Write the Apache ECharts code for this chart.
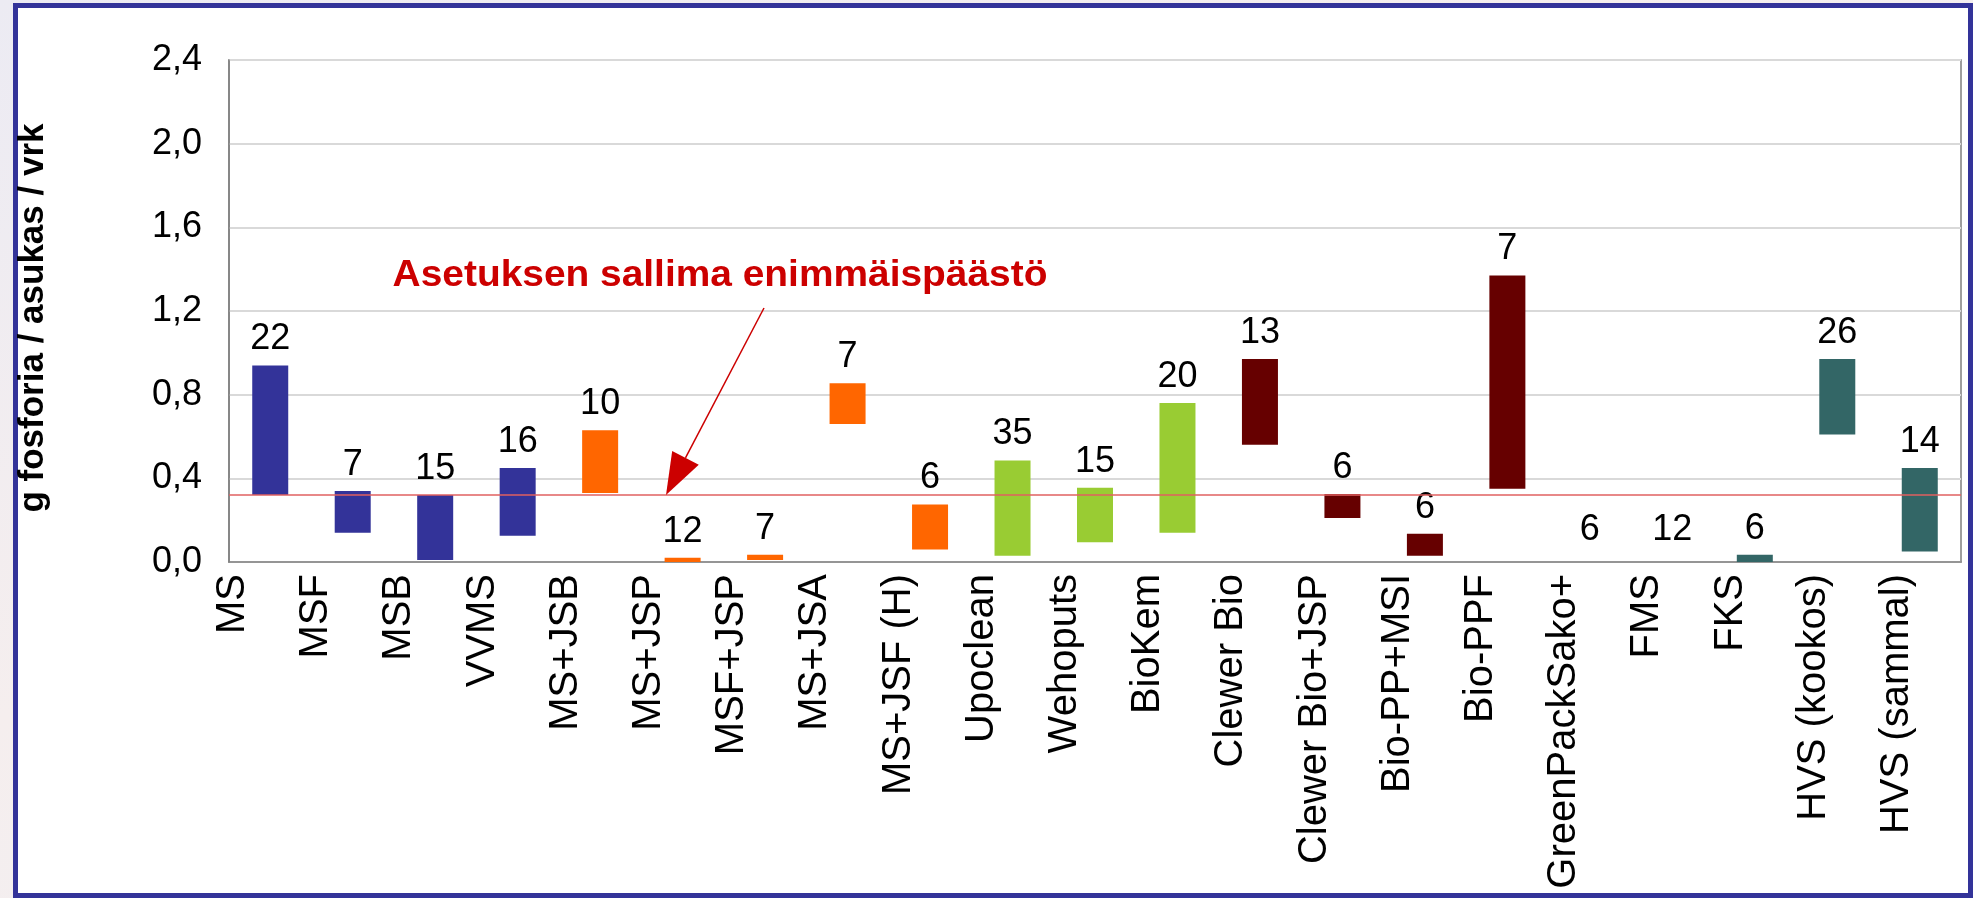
<!DOCTYPE html>
<html>
<head>
<meta charset="utf-8">
<script src="https://cdn.jsdelivr.net/npm/echarts@6/dist/echarts.min.js"></script>
<style>
  html, body { margin: 0; padding: 0; }
  body {
    width: 1973px; height: 898px; overflow: hidden; position: relative;
    background: linear-gradient(to bottom right, #ecebf3, #f5eeee 40%, #eef0f6);
  }
  #frame {
    position: absolute; left: 13px; top: 3px; right: 0; bottom: 0;
    border: 5px solid #333399; background: #fff;
  }
  #main { position: absolute; left: 0; top: 0; width: 1973px; height: 898px; }
</style>
</head>
<body>
<div id="frame"></div>
<div id="main"></div>
<script type="text/javascript">
  // laitteet / järjestelmät
  var categories = ['MS', 'MSF', 'MSB', 'VVMS', 'MS+JSB', 'MS+JSP', 'MSF+JSP', 'MS+JSA',
    'MS+JSF (H)', 'Upoclean', 'Wehoputs', 'BioKem', 'Clewer Bio', 'Clewer Bio+JSP',
    'Bio-PP+MSI', 'Bio-PPF', 'GreenPackSako+', 'FMS', 'FKS', 'HVS (kookos)', 'HVS (sammal)'];
  // vaihteluvälin ala- ja yläraja (g P / asukas / vrk)
  var lowValues  = [0.32, 0.14, 0.01, 0.125, 0.33, 0.0, 0.01, 0.66, 0.06, 0.03, 0.095, 0.14,
    0.56, 0.21, 0.03, 0.35, 0.03, 0.03, 0.0, 0.61, 0.05];
  var highValues = [0.94, 0.34, 0.32, 0.45, 0.63, 0.02, 0.035, 0.855, 0.275, 0.485, 0.355, 0.76,
    0.97, 0.325, 0.135, 1.37, 0.03, 0.03, 0.035, 0.97, 0.45];
  // näytteiden lukumäärä
  var sampleCounts = [22, 7, 15, 16, 10, 12, 7, 7, 6, 35, 15, 20, 13, 6, 6, 7, 6, 12, 6, 26, 14];
  var groupOf = [0, 0, 0, 0, 1, 1, 1, 1, 1, 2, 2, 2, 3, 3, 3, 3, 4, 4, 4, 4, 4];
  var groupColors = ['#333399', '#FF6600', '#99CC33', '#660000', '#336666'];
  var limitValue = 0.32;
  var annotationText = 'Asetuksen sallima enimmäispäästö';

  var font = 'Liberation Sans, Arial, sans-serif';
  var chart = echarts.init(document.getElementById('main'));

  var rangeData = [];
  for (var i = 0; i < categories.length; i++) {
    rangeData.push({
      value: +(highValues[i] - lowValues[i]).toFixed(4),
      itemStyle: { color: groupColors[groupOf[i]] }
    });
  }

  var option = {
    animation: false,
    grid: [{
      left: 229, right: 12, top: 60, bottom: 336,
      show: true, borderColor: '#7f7f7f', borderWidth: 1.5
    }, {
      // nimiakseli: nimet ovat luokkien välissä, hieman harvemmassa kuin pylväät
      left: 233, right: 76, top: 60, bottom: 336, show: false
    }],
    xAxis: [{
      type: 'category',
      data: categories,
      gridIndex: 0,
      position: 'bottom',
      axisLine: { lineStyle: { color: '#7f7f7f', width: 1.5 } },
      axisTick: { show: false },
      axisLabel: { show: false }
    }, {
      type: 'category',
      data: categories,
      gridIndex: 1,
      boundaryGap: false,
      position: 'bottom',
      axisLine: { show: false },
      axisTick: { show: false },
      axisLabel: {
        rotate: 90, margin: 12, interval: 0,
        color: '#000', fontSize: 40, fontFamily: font
      }
    }],
    yAxis: [{
      type: 'value',
      gridIndex: 0,
      min: 0, max: 2.4, interval: 0.4,
      name: 'g fosforia / asukas / vrk',
      nameLocation: 'middle',
      nameGap: 178,
      nameTextStyle: {
        fontSize: 35, fontWeight: 'bold', color: '#000', fontFamily: font,
        padding: [0, 14, 0, 0]
      },
      axisLine: { show: true, lineStyle: { color: '#7f7f7f', width: 1.5 } },
      axisTick: { show: false },
      axisLabel: {
        margin: 27, color: '#000', fontSize: 36, fontFamily: font,
        formatter: function (v) { return v.toFixed(1).replace('.', ','); }
      },
      splitLine: { lineStyle: { color: '#d9d9d9', width: 2 } }
    }, {
      type: 'value', gridIndex: 1, show: false, min: 0, max: 2.4
    }],
    series: [{
      type: 'bar',
      stack: 'vali',
      barWidth: 36,
      silent: true,
      itemStyle: { color: 'transparent' },
      data: lowValues
    }, {
      type: 'bar',
      stack: 'vali',
      barWidth: 36,
      data: rangeData,
      label: {
        show: true, position: 'top', distance: 8,
        color: '#000', fontSize: 36, fontFamily: font,
        formatter: function (p) { return sampleCounts[p.dataIndex]; }
      },
      markLine: {
        silent: true, symbol: 'none', label: { show: false },
        lineStyle: { color: '#e06060', width: 1.5, type: 'solid' },
        data: [{ yAxis: limitValue }]
      },
      z: 3
    }]
  };
  chart.setOption(option);

  // huomautusteksti ja nuoli raja-arvon viivaan
  var tipY = chart.convertToPixel({ yAxisIndex: 0 }, limitValue);
  var tip = [666, tipY];
  var start = [764, 308];
  var dx = tip[0] - start[0], dy = tip[1] - start[1];
  var len = Math.sqrt(dx * dx + dy * dy);
  var ux = dx / len, uy = dy / len;
  var headLen = 42, headHalf = 15;
  var base = [tip[0] - ux * headLen, tip[1] - uy * headLen];
  var nx = -uy, ny = ux;

  chart.setOption({
    graphic: [{
      type: 'text',
      x: 720, y: 276,
      scaleX: 1.08,
      style: {
        text: annotationText, fill: '#CC0000',
        font: 'bold 36px ' + font,
        textAlign: 'center', textVerticalAlign: 'middle'
      },
      z: 10
    }, {
      type: 'line',
      shape: { x1: start[0], y1: start[1], x2: base[0], y2: base[1] },
      style: { stroke: '#CC0000', lineWidth: 1.5 },
      z: 10
    }, {
      type: 'polygon',
      shape: {
        points: [tip,
          [base[0] + nx * headHalf, base[1] + ny * headHalf],
          [base[0] - nx * headHalf, base[1] - ny * headHalf]]
      },
      style: { fill: '#CC0000' },
      z: 10
    }]
  });
</script>
</body>
</html>
